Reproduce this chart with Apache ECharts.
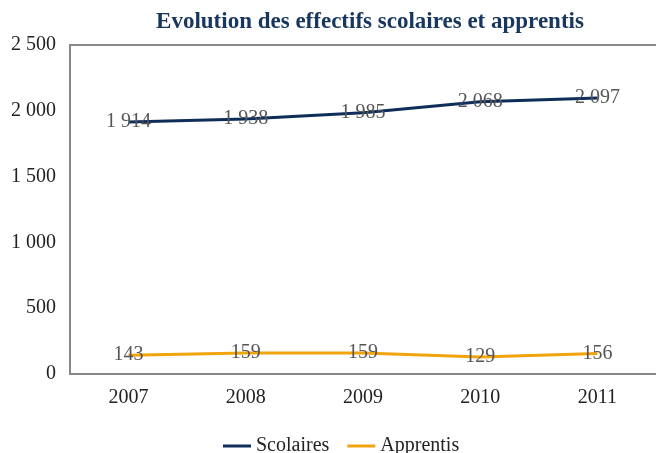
<!DOCTYPE html>
<html>
<head>
<meta charset="utf-8">
<script src="https://cdn.jsdelivr.net/npm/echarts@6/dist/echarts.min.js"></script>
<style>
html,body{margin:0;padding:0;background:#fff;}
#main{width:656px;height:453px;}
</style>
</head>
<body>
<div id="main"></div>
<script>
var annees = ["2007", "2008", "2009", "2010", "2011"];
var scolaires = [1914, 1938, 1985, 2068, 2097];
var apprentis = [143, 159, 159, 129, 156];
var police = "'Liberation Serif', 'DejaVu Serif', serif";

//format 2 500
function milliers(v) {
    return String(v).replace(/\B(?=(\d{3})+(?!\d))/g, " ");
}

var myChart = echarts.init(document.getElementById("main"));
var option = {
    animation: false,
    title: {
        text: "Evolution des effectifs scolaires et apprentis",
        left: 365,
        textAlign: "center",
        top: 6,
        textStyle: {fontFamily: police, fontSize: 23, fontWeight: "bold", color: "#17375e"}
    },
    legend: {
        top: 431,
        left: 218,
        itemWidth: 28,
        itemHeight: 3,
        itemGap: 18,
        icon: "rect",
        textStyle: {fontFamily: police, fontSize: 20, color: "#222"},
        data: ["Scolaires", "Apprentis"]
    },
    grid: {left: 70, top: 45, right: 0, bottom: 79},
    xAxis: [
        {
            type: "category",
            data: annees,
            axisLine: {lineStyle: {color: "#888", width: 2}},
            axisTick: {show: false},
            axisLabel: {fontFamily: police, fontSize: 20, color: "#222", margin: 14}
        },
        {
            type: "category",
            position: "top",
            data: annees,
            axisLine: {show: true, lineStyle: {color: "#888", width: 2}},
            axisTick: {show: false},
            axisLabel: {show: false}
        }
    ],
    yAxis: {
        type: "value",
        min: 0,
        max: 2500,
        interval: 500,
        axisLine: {show: true, lineStyle: {color: "#888", width: 2}},
        axisTick: {show: false},
        splitLine: {show: false},
        axisLabel: {
            fontFamily: police, fontSize: 20, color: "#222", margin: 14,
            formatter: function (v) { return milliers(v); }
        }
    },
    series: [
        {
            name: "Scolaires",
            type: "line",
            data: scolaires,
            symbol: "circle",
            symbolSize: 0,
            lineStyle: {color: "#0f2d5a", width: 3},
            itemStyle: {color: "#0f2d5a"},
            label: {
                show: true, position: "inside",
                fontFamily: police, fontSize: 20, color: "#555",
                formatter: function (p) { return milliers(p.value); }
            }
        },
        {
            name: "Apprentis",
            type: "line",
            data: apprentis,
            symbol: "circle",
            symbolSize: 0,
            lineStyle: {color: "#f2a40c", width: 3},
            itemStyle: {color: "#f2a40c"},
            label: {
                show: true, position: "inside",
                fontFamily: police, fontSize: 20, color: "#555"
            }
        }
    ]
};
myChart.setOption(option);
</script>
</body>
</html>
